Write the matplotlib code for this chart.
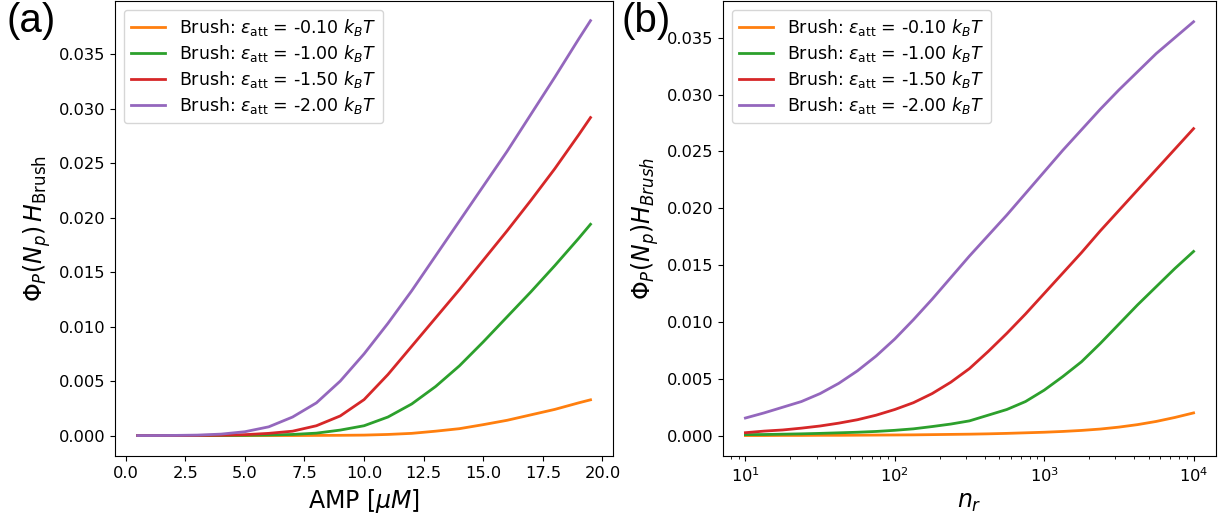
import numpy as np
import matplotlib.pyplot as plt

font_tick = 11.7
font_label = 17
font_leg = 12.5

# panel (a): AMP concentration [uM]
amp = [0.5, 1, 2, 3, 4, 5, 6, 7, 8, 9, 10, 11, 12, 13, 14, 15, 16, 17, 18, 19, 19.5]
amp_e010 = [0, 0, 0, 0, 0, 0, 0, 0, 0.00001, 0.00002, 0.00004, 0.0001, 0.0002, 0.0004,
            0.00063, 0.001, 0.0014, 0.0019, 0.0024, 0.0030, 0.00328]
amp_e100 = [0, 0, 0, 0, 0.00001, 0.00002, 0.00005, 0.0001, 0.00022, 0.0005, 0.0009, 0.0017,
            0.0029, 0.0045, 0.0064, 0.0086, 0.0109, 0.0132, 0.0156, 0.0181, 0.0194]
amp_e150 = [0, 0, 0, 0.00001, 0.00003, 0.00008, 0.0002, 0.0004, 0.0009, 0.0018, 0.0033, 0.0056,
            0.0082, 0.0108, 0.0134, 0.0161, 0.0188, 0.0216, 0.0245, 0.0276, 0.0292]
amp_e200 = [0, 0, 0.00001, 0.00004, 0.00013, 0.00035, 0.0008, 0.0017, 0.0030, 0.0050, 0.0075, 0.0103,
            0.0133, 0.0165, 0.0197, 0.0229, 0.0261, 0.0295, 0.0329, 0.0364, 0.0381]

# panel (b): n_r on a log grid, 10^1 .. 10^4
nr = np.logspace(1, 4, 25)
nr_e010 = [0.00001, 0.00001, 0.00002, 0.00002, 0.00003, 0.00003, 0.00004, 0.00005, 0.00006,
           0.00007, 0.00009, 0.00011, 0.00013, 0.00016, 0.0002, 0.00025, 0.0003, 0.00037,
           0.00046, 0.00058, 0.00075, 0.00097, 0.00125, 0.0016, 0.0020]
nr_e100 = [0.00009, 0.0001, 0.00013, 0.00016, 0.0002, 0.00025, 0.0003, 0.00037, 0.00047,
           0.0006, 0.0008, 0.00102, 0.0013, 0.0018, 0.0023, 0.0030, 0.0040, 0.0052,
           0.0065, 0.0081, 0.0098, 0.0115, 0.0131, 0.0147, 0.0162]
nr_e150 = [0.00026, 0.0004, 0.0005, 0.00066, 0.00085, 0.0011, 0.0014, 0.0018, 0.0023,
           0.0029, 0.0037, 0.0047, 0.0059, 0.0074, 0.0090, 0.0107, 0.0125, 0.0143,
           0.0161, 0.0180, 0.0198, 0.0216, 0.0234, 0.0252, 0.0270]
nr_e200 = [0.00155, 0.0020, 0.0025, 0.0030, 0.0037, 0.0046, 0.0057, 0.0070, 0.0085,
           0.0102, 0.0120, 0.0139, 0.0158, 0.0176, 0.0194, 0.0213, 0.0232, 0.0251,
           0.0269, 0.0287, 0.0304, 0.0320, 0.0336, 0.0350, 0.0364]

eps = ['-0.10', '-1.00', '-1.50', '-2.00']
colors = ['C1', 'C2', 'C3', 'C4']

fig = plt.figure(figsize=(12.3, 5.22), dpi=100)
ax1 = fig.add_axes([0.0935, 0.126, 0.405, 0.872])
ax2 = fig.add_axes([0.5878, 0.126, 0.4008, 0.872])

for e, c, y in zip(eps, colors, [amp_e010, amp_e100, amp_e150, amp_e200]):
    ax1.plot(amp, y, color=c, lw=2, label=r'Brush: $\varepsilon_{\rm att}$ = ' + e + r' $k_BT$')
for e, c, y in zip(eps, colors, [nr_e010, nr_e100, nr_e150, nr_e200]):
    ax2.plot(nr, y, color=c, lw=2, label=r'Brush: $\varepsilon_{\rm att}$ = ' + e + r' $k_BT$')

ax2.set_xscale('log')
ax1.set_xlabel(r'AMP [$\mu M$]', fontsize=font_label)
ax1.set_ylabel(r'$\Phi_P(N_p)\,H_{\rm Brush}$', fontsize=font_label)
ax2.set_xlabel(r'$n_r$', fontsize=font_label)
ax2.set_ylabel(r'$\Phi_P(N_p) H_{Brush}$', fontsize=font_label)
ax1.set_xticks(np.arange(0, 20.1, 2.5))
ax1.set_ylim(-0.0019, 0.0399)

for ax in (ax1, ax2):
    ax.tick_params(axis='both', labelsize=font_tick)
    ax.legend(loc='upper left', fontsize=font_leg, labelspacing=0.3)

fig.text(0.005, 0.997, '(a)', fontsize=29, family='Liberation Sans', va='top', ha='left')
fig.text(0.505, 0.997, '(b)', fontsize=29, family='Liberation Sans', va='top', ha='left')

plt.savefig('out.png', dpi=100)
